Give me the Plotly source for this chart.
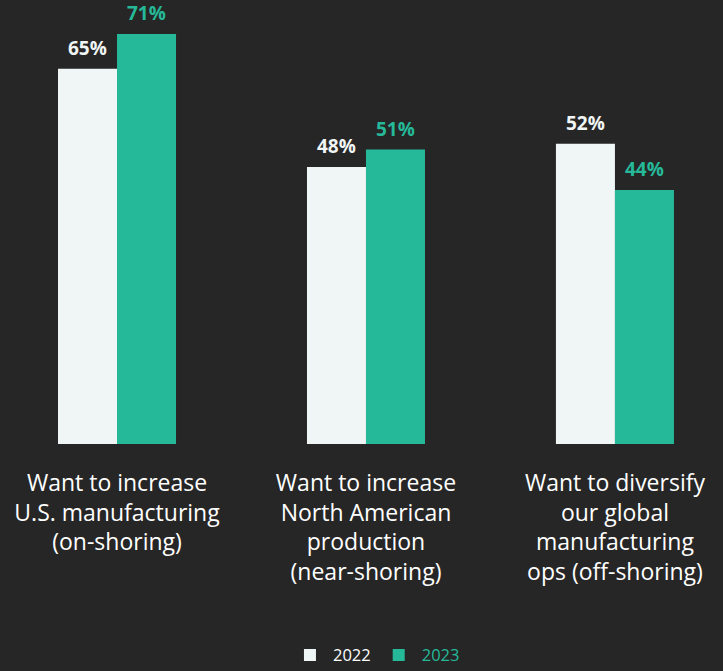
import plotly.graph_objects as go

categories = [
    "Want to increase<br>U.S. manufacturing<br>(on-shoring)",
    "Want to increase<br>North American<br>production<br>(near-shoring)",
    "Want to diversify<br>our global<br>manufacturing<br>ops (off-shoring)",
]
values_2022 = [65, 48, 52]
values_2023 = [71, 51, 44]
series_names = ["2022", "2023"]

BG = "#262626"
C22 = "#f0f5f5"
C23 = "#25b999"
FONT = "Open Sans, sans-serif"

fig = go.Figure()
fig.add_trace(go.Bar(x=categories, y=values_2022, name=series_names[0],
                     marker=dict(color=C22, line=dict(width=0)), hoverinfo="skip"))
fig.add_trace(go.Bar(x=categories, y=values_2023,
                     name=f"<span style='color:{C23}'>{series_names[1]}</span>",
                     marker=dict(color=C23, line=dict(width=0)), hoverinfo="skip"))

annotations = []
for vals, col, shift in [(values_2022, C22, -29.5), (values_2023, C23, 29.5)]:
    for c, v in zip(categories, vals):
        annotations.append(dict(x=c, y=v, xref="x", yref="y", text=f"<b>{v}%</b>",
                                showarrow=False, xshift=shift, yshift=21,
                                font=dict(family=FONT, size=19, color=col)))

fig.update_layout(
    width=723, height=671,
    paper_bgcolor=BG, plot_bgcolor=BG,
    margin=dict(l=0, r=0, t=11, b=227, autoexpand=False),
    barmode="group", bargap=0.526, bargroupgap=0,
    font=dict(family=FONT, color="#ffffff"),
    showlegend=True,
    legend=dict(orientation="h", x=0.52, xanchor="center", y=-0.488, yanchor="middle",
                font=dict(family=FONT, size=16.5, color="#ffffff"),
                itemwidth=36,
                bgcolor="rgba(0,0,0,0)"),
    annotations=annotations,
    xaxis=dict(range=[-0.47, 2.434], showgrid=False, zeroline=False, showline=False,
               automargin=False,
               ticks="outside", ticklen=18, tickcolor=BG,
               tickfont=dict(family=FONT, size=23, color="#ffffff")),
    yaxis=dict(range=[0, 75], visible=False, showgrid=False, zeroline=False, automargin=False),
)
fig.write_html("out.html")
